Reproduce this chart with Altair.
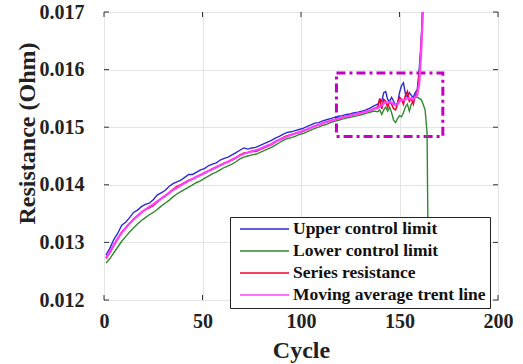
import altair as alt
import pandas as pd

# ---------------- data ----------------
cycles_early = list(range(1, 138, 2))          # 1,3,...,137
cycles_late_main = list(range(139, 164))        # 139..163
cycles_late_lcl = list(range(139, 166))         # 139..165

series_names = ["Upper control limit", "Lower control limit",
                "Series resistance", "Moving average trent line"]
series_colors = ["#2a2ad8", "#2f8a2f", "#f2002c", "#ff40ff"]
series_widths = [1.4, 1.4, 1.6, 2.2]

ucl = [0.01278, 0.01290, 0.01305, 0.01316, 0.01330, 0.01335, 0.01343, 0.01352, 0.01356, 0.01362,
       0.01366, 0.01368, 0.01374, 0.01382, 0.01386, 0.01390, 0.01397, 0.01402, 0.01405, 0.01408,
       0.01413, 0.01418, 0.01418, 0.01422, 0.01426, 0.01428, 0.01433, 0.01436, 0.01438, 0.01443,
       0.01446, 0.01448, 0.01452, 0.01456, 0.01460, 0.01464, 0.01462, 0.01464, 0.01465, 0.01468,
       0.01471, 0.01474, 0.01477, 0.01481, 0.01484, 0.01488, 0.01491, 0.01492, 0.01494, 0.01496,
       0.01498, 0.01501, 0.01504, 0.01507, 0.01508, 0.01511, 0.01513, 0.01515, 0.01517, 0.01519,
       0.01520, 0.01522, 0.01523, 0.01525, 0.01526, 0.01528, 0.01530, 0.01533, 0.01537,
       0.01540, 0.01548, 0.01545, 0.01560, 0.01562, 0.01548, 0.01545, 0.01552, 0.01545, 0.01538,
       0.01542, 0.01560, 0.01572, 0.01577, 0.01558, 0.01552, 0.01560, 0.01555, 0.01552, 0.01560,
       0.01565, 0.01600, 0.01650, 0.01730, 0.01850]

lcl = [0.01264, 0.01272, 0.01282, 0.01292, 0.01302, 0.01310, 0.01318, 0.01325, 0.01332, 0.01338,
       0.01343, 0.01348, 0.01352, 0.01357, 0.01363, 0.01368, 0.01373, 0.01379, 0.01384, 0.01388,
       0.01392, 0.01396, 0.01400, 0.01404, 0.01407, 0.01411, 0.01415, 0.01419, 0.01422, 0.01426,
       0.01430, 0.01433, 0.01436, 0.01440, 0.01445, 0.01448, 0.01450, 0.01452, 0.01453, 0.01456,
       0.01459, 0.01462, 0.01465, 0.01469, 0.01473, 0.01477, 0.01480, 0.01482, 0.01484, 0.01487,
       0.01489, 0.01492, 0.01495, 0.01498, 0.01500, 0.01503, 0.01505, 0.01508, 0.01510, 0.01512,
       0.01514, 0.01516, 0.01517, 0.01519, 0.01520, 0.01522, 0.01524, 0.01526, 0.01528,
       0.01527, 0.01530, 0.01522, 0.01530, 0.01535, 0.01528, 0.01535, 0.01525, 0.01512, 0.01508,
       0.01515, 0.01520, 0.01518, 0.01525, 0.01535, 0.01540, 0.01528, 0.01540, 0.01545, 0.01552,
       0.01552, 0.01550, 0.01548, 0.01540, 0.01530, 0.01490, 0.01100]

res = [0.01272, 0.01282, 0.01295, 0.01306, 0.01318, 0.01325, 0.01333, 0.01340, 0.01346, 0.01352,
       0.01357, 0.01360, 0.01364, 0.01370, 0.01376, 0.01380, 0.01386, 0.01392, 0.01397, 0.01400,
       0.01404, 0.01408, 0.01410, 0.01414, 0.01417, 0.01420, 0.01424, 0.01428, 0.01430, 0.01434,
       0.01438, 0.01440, 0.01443, 0.01447, 0.01452, 0.01455, 0.01456, 0.01458, 0.01458, 0.01461,
       0.01464, 0.01467, 0.01470, 0.01474, 0.01478, 0.01482, 0.01485, 0.01487, 0.01489, 0.01491,
       0.01493, 0.01496, 0.01499, 0.01502, 0.01504, 0.01507, 0.01509, 0.01511, 0.01513, 0.01515,
       0.01517, 0.01519, 0.01520, 0.01522, 0.01523, 0.01525, 0.01527, 0.01529, 0.01532,
       0.01535, 0.01550, 0.01532, 0.01548, 0.01545, 0.01535, 0.01545, 0.01540, 0.01532, 0.01530,
       0.01540, 0.01552, 0.01548, 0.01540, 0.01555, 0.01562, 0.01545, 0.01550, 0.01540, 0.01555,
       0.01560, 0.01590, 0.01640, 0.01720, 0.01850]

mavg = [0.01273, 0.01284, 0.01296, 0.01307, 0.01317, 0.01325, 0.01333, 0.01340, 0.01346, 0.01352,
        0.01357, 0.01362, 0.01366, 0.01371, 0.01376, 0.01381, 0.01386, 0.01391, 0.01395, 0.01399,
        0.01403, 0.01407, 0.01410, 0.01414, 0.01417, 0.01421, 0.01424, 0.01427, 0.01431, 0.01434,
        0.01437, 0.01440, 0.01444, 0.01447, 0.01451, 0.01454, 0.01456, 0.01458, 0.01460, 0.01462,
        0.01465, 0.01468, 0.01471, 0.01475, 0.01478, 0.01481, 0.01484, 0.01487, 0.01489, 0.01491,
        0.01494, 0.01496, 0.01499, 0.01502, 0.01504, 0.01507, 0.01509, 0.01511, 0.01513, 0.01515,
        0.01517, 0.01519, 0.01520, 0.01522, 0.01524, 0.01525, 0.01527, 0.01529, 0.01532,
        0.01533, 0.01536, 0.01538, 0.01541, 0.01543, 0.01543, 0.01544, 0.01543, 0.01540, 0.01538,
        0.01540, 0.01545, 0.01548, 0.01547, 0.01548, 0.01550, 0.01550, 0.01549, 0.01548, 0.01552,
        0.01556, 0.01575, 0.01630, 0.01710, 0.01850]

x_ticks = [0, 50, 100, 150, 200]
y_ticks = [0.012, 0.013, 0.014, 0.015, 0.016, 0.017]
box_cycle = [118, 172]
box_res = [0.01484, 0.01594]

# ---------------- tables ----------------
cyc_main = cycles_early + cycles_late_main
cyc_lcl = cycles_early + cycles_late_lcl
rows = []
for name, cyc, vals in [(series_names[0], cyc_main, ucl), (series_names[1], cyc_lcl, lcl),
                        (series_names[2], cyc_main, res), (series_names[3], cyc_main, mavg)]:
    for c, v in zip(cyc, vals):
        rows.append({"series": name, "cycle": c, "value": v})
df = pd.DataFrame(rows)
xt = pd.DataFrame({"cycle": x_ticks})
yt = pd.DataFrame({"value": y_ticks})
box = pd.DataFrame({"cycle": [box_cycle[0]], "cycle2": [box_cycle[1]],
                    "value": [box_res[0]], "value2": [box_res[1]]})

W, H = 394, 288
FONT = "Liberation Serif"

xscale = alt.Scale(domain=[0, 200], nice=False, zero=False)
yscale = alt.Scale(domain=[0.012, 0.017], nice=False, zero=False)
xaxis = alt.Axis(values=x_ticks, title="Cycle", labelPadding=11, titleY=57,
                 titleBaseline="alphabetic", labelFlush=False)
yaxis = alt.Axis(values=y_ticks, format=".3f", title="Resistance (Ohm)", labelPadding=20,
                 titleX=-77, titleY=121, titleAlign="center", titleBaseline="middle",
                 labelFlush=False)
X = alt.X("cycle:Q", scale=xscale, axis=xaxis)
Y = alt.Y("value:Q", scale=yscale, axis=yaxis)
C = alt.Color("series:N", scale=alt.Scale(domain=series_names, range=series_colors),
              legend=alt.Legend(title=None, orient="none", legendX=126, legendY=205))

layers = []
box_layer = alt.Chart(box).mark_rect(filled=False, stroke="#c400c4", strokeWidth=3,
                                     strokeDash=[9, 4, 3, 4]).encode(
    x=X, x2="cycle2:Q", y=Y, y2="value2:Q")
layers.append(box_layer)
for name, w in zip(series_names, series_widths):
    layers.append(
        alt.Chart(df).transform_filter(alt.datum.series == name)
        .mark_line(clip=True, strokeWidth=w).encode(x=X, y=Y, color=C)
    )
TL = 5
layers.append(alt.Chart(xt).mark_rule(color="#333").encode(x=X, y=alt.value(H), y2=alt.value(H - TL)))
layers.append(alt.Chart(xt).mark_rule(color="#333").encode(x=X, y=alt.value(0), y2=alt.value(TL)))
layers.append(alt.Chart(yt).mark_rule(color="#333").encode(y=Y, x=alt.value(0), x2=alt.value(TL)))
layers.append(alt.Chart(yt).mark_rule(color="#333").encode(y=Y, x=alt.value(W), x2=alt.value(W - TL)))

chart = alt.layer(*layers).properties(
    width=W, height=H,
    autosize=alt.AutoSizeParams(type="none"),
    padding={"left": 104, "top": 12, "right": 25, "bottom": 64},
    background="white",
).configure_view(
    stroke="#333", strokeWidth=1
).configure_axis(
    grid=True, gridColor="#e4e4e4", gridWidth=1, domain=False, ticks=False, tickSize=0,
    labelFont=FONT, labelFontWeight="bold", labelFontSize=20, labelColor="#222",
    titleFont=FONT, titleFontWeight="bold", titleFontSize=24, titleColor="#222",
).configure_legend(
    fillColor="white", strokeColor="#222", padding=4, cornerRadius=0,
    symbolType="stroke", symbolSize=2400, symbolStrokeWidth=1.5, symbolOffset=5,
    clipHeight=16,
    labelOffset=3, labelFont=FONT, labelFontWeight="bold", labelFontSize=17.5,
    labelColor="#111", labelLimit=400, rowPadding=4,
)

chart.save("out.html", embed_options={"renderer": "svg", "actions": False})
